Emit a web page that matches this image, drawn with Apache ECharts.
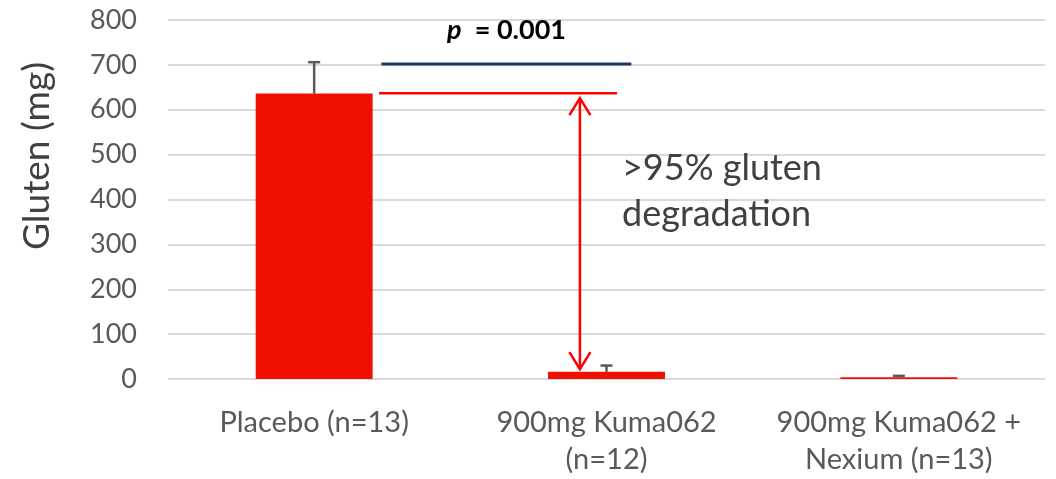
<!DOCTYPE html>
<html>
<head>
<meta charset="utf-8">
<script src="https://cdn.jsdelivr.net/npm/echarts@6/dist/echarts.min.js"></script>
<style>
  html, body { margin: 0; padding: 0; background: #fff; }
  #chart { width: 1056px; height: 479px; }
</style>
</head>
<body>
<div id="chart"></div>
<script>
// data
var categories = ['Placebo (n=13)', '900mg Kuma062\n(n=12)', '900mg Kuma062 +\nNexium (n=13)'];
var glutenMean = [636, 16, 4];
var glutenSD = [70, 14, 3];
var yTicks = [0, 100, 200, 300, 400, 500, 600, 700, 800];

// annotations, in axis units (x: 0..3 across the categories, y: mg)
var pLine = [0.73, 1.585, 702];      // x1, x2, y
var topLine = [0.722, 1.536, 637];   // x1, x2, y
var arrow = [1.409, 626, 22];        // x, yTop, yBottom
var pLabel = [1.158, 778];
var noteLabel = [1.553, 419];

var font = 'Lato, "Open Sans", sans-serif';

var chart = echarts.init(document.getElementById('chart'));

function errorBars(params, api) {
  var i = api.value(0);
  var top = api.coord([i, api.value(1) + api.value(2)]);
  var base = api.coord([i, api.value(1)]);
  var half = 6;
  var style = { stroke: '#595959', lineWidth: 2.5 };
  return {
    type: 'group',
    children: [
      { type: 'line', shape: { x1: top[0], y1: top[1], x2: base[0], y2: base[1] }, style: style },
      { type: 'line', shape: { x1: top[0] - half, y1: top[1], x2: top[0] + half, y2: top[1] }, style: style }
    ]
  };
}

function annotations(params, api) {
  var a = api.coord([pLine[0], pLine[2]]);
  var b = api.coord([pLine[1], pLine[2]]);
  var c = api.coord([topLine[0], topLine[2]]);
  var d = api.coord([topLine[1], topLine[2]]);
  var t = api.coord([arrow[0], arrow[1]]);
  var u = api.coord([arrow[0], arrow[2]]);
  var p = api.coord(pLabel);
  var n = api.coord(noteLabel);
  var head = 17, spread = 10.5;
  var red = { stroke: '#FF0000', lineWidth: 2.5, fill: null };
  return {
    type: 'group',
    children: [
      { type: 'line', shape: { x1: a[0], y1: a[1], x2: b[0], y2: b[1] }, style: { stroke: '#203864', lineWidth: 3 } },
      { type: 'line', shape: { x1: c[0], y1: c[1], x2: d[0], y2: d[1] }, style: red },
      { type: 'line', shape: { x1: t[0], y1: t[1], x2: u[0], y2: u[1] }, style: red },
      { type: 'polyline', shape: { points: [[t[0] - spread, t[1] + head], [t[0], t[1]], [t[0] + spread, t[1] + head]] }, style: red },
      { type: 'polyline', shape: { points: [[u[0] - spread, u[1] - head], [u[0], u[1]], [u[0] + spread, u[1] - head]] }, style: red },
      {
        type: 'text', x: p[0], y: p[1],
        style: {
          text: '{i|p}{b|  = 0.001}',
          align: 'center', verticalAlign: 'middle',
          rich: {
            i: { fontFamily: font, fontSize: 27, fontWeight: 'bold', fontStyle: 'italic', fill: '#000' },
            b: { fontFamily: font, fontSize: 27, fontWeight: 'bold', fill: '#000' }
          }
        }
      },
      {
        type: 'text', x: n[0], y: n[1],
        style: {
          text: '>95% gluten\ndegradation',
          align: 'left', verticalAlign: 'middle',
          fontFamily: font, fontSize: 36, lineHeight: 46, fill: '#404040'
        }
      }
    ]
  };
}

chart.setOption({
  animation: false,
  backgroundColor: '#fff',
  grid: { left: 168, right: 11, top: 20, bottom: 100 },
  xAxis: [{
    type: 'category',
    data: categories,
    axisLine: { show: false },
    axisTick: { show: false },
    axisLabel: { interval: 0, color: '#595959', fontFamily: font, fontSize: 29, lineHeight: 37, margin: 25 }
  }, {
    type: 'value', min: 0, max: 3, show: false
  }],
  yAxis: {
    type: 'value',
    min: yTicks[0],
    max: yTicks[yTicks.length - 1],
    interval: 100,
    axisLine: { show: false },
    axisTick: { show: false },
    axisLabel: { color: '#595959', fontFamily: font, fontSize: 27, margin: 31 },
    splitLine: { lineStyle: { color: '#D9D9D9', width: 2 } }
  },
  graphic: [{
    type: 'text',
    x: 37, y: 156,
    rotation: Math.PI / 2,
    style: {
      text: 'Gluten (mg)',
      align: 'center', verticalAlign: 'middle',
      fontFamily: font, fontSize: 37, fill: '#404040'
    }
  }],
  series: [{
    type: 'bar',
    data: glutenMean,
    barWidth: '40%',
    itemStyle: { color: '#F01000' }
  }, {
    type: 'custom',
    renderItem: errorBars,
    data: glutenMean.map(function (m, i) { return [i, m, glutenSD[i]]; }),
    z: 3
  }, {
    type: 'custom',
    xAxisIndex: 1,
    renderItem: annotations,
    data: [[0, 0]],
    z: 4
  }]
});
</script>
</body>
</html>
